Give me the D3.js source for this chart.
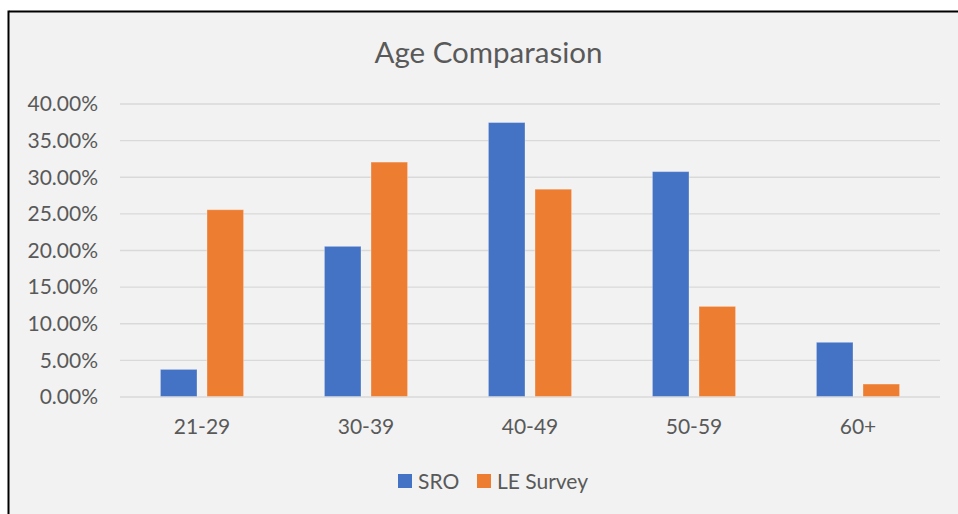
<!DOCTYPE html>
<html>
<head>
<meta charset="utf-8">
<script src="https://cdn.jsdelivr.net/npm/d3@7"></script>
<style>
  html, body { margin: 0; padding: 0; background: #ffffff; }
  svg { display: block; }
  text { font-family: Lato, "Open Sans", sans-serif; fill: #595959; }
</style>
</head>
<body>
<script>
const categories = ["21-29", "30-39", "40-49", "50-59", "60+"];
const seriesNames = ["SRO", "LE Survey"];
const sroValues = [0.037, 0.205, 0.374, 0.307, 0.074];
const leValues = [0.255, 0.320, 0.283, 0.123, 0.017];
const yTicks = [0, 0.05, 0.10, 0.15, 0.20, 0.25, 0.30, 0.35, 0.40];
const colors = ["#4472C4", "#ED7D31"];

const W = 958, H = 514;
const svg = d3.select("body").append("svg").attr("width", W).attr("height", H);

// chart area background and border
svg.append("rect").attr("x", 9).attr("y", 12).attr("width", W - 9).attr("height", H - 12).attr("fill", "#f2f2f2");
svg.append("line").attr("x1", 9).attr("x2", W).attr("y1", 11.5).attr("y2", 11.5).attr("stroke", "#000").attr("stroke-width", 2);
svg.append("line").attr("x1", 8.5).attr("x2", 8.5).attr("y1", 10.5).attr("y2", H).attr("stroke", "#000").attr("stroke-width", 2);

const plot = { left: 120, right: 940, top: 103.5, bottom: 396.5 };

const x = d3.scaleBand().domain(categories).range([plot.left, plot.right]).paddingInner(0).paddingOuter(0);
const y = d3.scaleLinear().domain([0, 0.40]).range([plot.bottom, plot.top]);

// title
svg.append("text").attr("x", 488.5).attr("y", 62.5).attr("text-anchor", "middle")
  .style("font-size", "29.5px").text("Age Comparasion");

// gridlines + y axis labels
const yAxis = d3.axisLeft(y).tickValues(yTicks).tickFormat(d => (d * 100).toFixed(2) + "%")
  .tickSize(-(plot.right - plot.left)).tickPadding(22);
const gy = svg.append("g").attr("transform", `translate(${plot.left},0)`).call(yAxis);
gy.select(".domain").remove();
gy.selectAll(".tick line").attr("stroke", "#d9d9d9").attr("stroke-width", 1.4);
gy.selectAll(".tick text").style("font-size", "21px").attr("fill", "#595959").attr("dy", "0.35em");

// x axis labels
const xAxis = d3.axisBottom(x).tickSize(0).tickPadding(23);
const gx = svg.append("g").attr("transform", `translate(0,${plot.bottom})`).call(xAxis);
gx.select(".domain").remove();
gx.selectAll(".tick text").style("font-size", "21px").attr("fill", "#595959");

// bars
const barW = x.bandwidth() * 0.223;
const gap = 10;
const sub = d3.scaleOrdinal().domain(seriesNames).range([-(barW + gap / 2), gap / 2]);
const rows = categories.map((c, i) => ({ c, vals: [sroValues[i], leValues[i]] }));
const groups = svg.append("g").selectAll("g").data(rows).join("g")
  .attr("transform", d => `translate(${x(d.c) + x.bandwidth() / 2},0)`);
groups.selectAll("rect").data(d => d.vals.map((v, j) => ({ v, s: seriesNames[j], j })))
  .join("rect")
  .attr("x", d => sub(d.s))
  .attr("y", d => y(d.v))
  .attr("width", barW)
  .attr("height", d => y(0) - y(d.v))
  .attr("fill", d => colors[d.j])
  .attr("stroke", "rgba(255,255,255,0.3)")
  .attr("stroke-width", 1);

// legend
const legend = svg.append("g");
const legItems = [{ s: seriesNames[0], x: 398, c: colors[0] }, { s: seriesNames[1], x: 477, c: colors[1] }];
legItems.forEach(it => {
  legend.append("rect").attr("x", it.x).attr("y", 474).attr("width", 14).attr("height", 14).attr("fill", it.c);
  legend.append("text").attr("x", it.x + 20).attr("y", 488.5).style("font-size", "21px").text(it.s);
});
</script>
</body>
</html>
